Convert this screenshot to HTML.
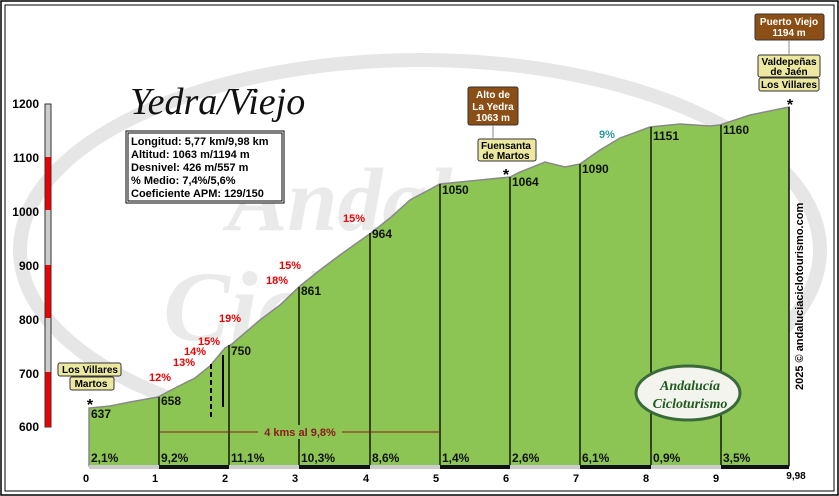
<!DOCTYPE html>
<html><head><meta charset="utf-8"><style>
body{margin:0;background:#fff}
svg{display:block;font-family:"Liberation Sans","DejaVu Sans",sans-serif;font-weight:bold}
</style></head><body>
<svg width="839" height="496" viewBox="0 0 839 496" xmlns="http://www.w3.org/2000/svg">
<rect x="0" y="0" width="839" height="496" fill="#fff"/>
<rect x="1" y="1" width="837" height="494" fill="none" stroke="#000" stroke-width="1.5"/>
<rect x="5" y="5" width="829" height="486" fill="none" stroke="#000" stroke-width="1"/>
<!-- watermark -->
<ellipse cx="420" cy="250" rx="400" ry="190" fill="none" stroke="#e6e6e6" stroke-width="14"/>
<text x="420" y="230" font-size="90" fill="#eaeaea" text-anchor="middle" font-style="italic" font-family="Liberation Serif,serif">Andalucía</text>
<text x="430" y="340" font-size="100" fill="#eaeaea" text-anchor="middle" font-style="italic" font-family="Liberation Serif,serif">Cicloturismo</text>
<!-- profile -->
<polygon fill="#8cc553" stroke="#888" stroke-width="1.5" points="89,466 89,408 110,406 130,402 158,397 175,388 195,378 210,366 225,348 232,344 260,320 280,305 300,286 320,270 340,255 371,233 390,218 410,200 440,184 470,181 500,178 510,177 520,172 545,162 565,167 580,164 600,150 620,138 650,127 680,124 710,126 720,125 750,115 789,107 789,466"/>
<g stroke="#000" stroke-width="1.3">
<line x1="159" y1="397" x2="159" y2="466"/><line x1="229" y1="345" x2="229" y2="466"/>
<line x1="299" y1="287" x2="299" y2="466"/><line x1="370" y1="233" x2="370" y2="466"/>
<line x1="440" y1="184" x2="440" y2="466"/><line x1="510" y1="177" x2="510" y2="466"/>
<line x1="580" y1="164" x2="580" y2="466"/><line x1="651" y1="127" x2="651" y2="466"/>
<line x1="721" y1="125" x2="721" y2="466"/><line x1="789" y1="107" x2="789" y2="466"/>
</g>
<g stroke="#000" stroke-width="2">
<line x1="211" y1="364" x2="211" y2="417" stroke-dasharray="5,3"/>
<line x1="223" y1="355" x2="223" y2="407"/>
</g>
<!-- bottom band -->
<rect x="89" y="465" width="700" height="4" fill="#ccc"/>
<g fill="#111"><rect x="159" y="465" width="70" height="4"/><rect x="299" y="465" width="71" height="4"/><rect x="440" y="465" width="70" height="4"/><rect x="580" y="465" width="71" height="4"/><rect x="721" y="465" width="68" height="4"/></g>
<!-- left scale -->
<rect x="45" y="104" width="6" height="323" fill="#ccc" stroke="#333" stroke-width="1"/>
<g fill="#e00"><rect x="45.5" y="157" width="5" height="53"/><rect x="45.5" y="265" width="5" height="53"/><rect x="45.5" y="372" width="5" height="55"/></g>
<g font-size="12" fill="#000" text-anchor="end">
<text x="39" y="108">1200</text><text x="39" y="162">1100</text><text x="39" y="216">1000</text><text x="39" y="270">900</text><text x="39" y="324">800</text><text x="39" y="378">700</text><text x="39" y="431">600</text>
</g>
<g font-size="11" fill="#000" text-anchor="middle">
<text x="86" y="482">0</text><text x="155" y="482">1</text><text x="225" y="482">2</text><text x="295" y="482">3</text><text x="366" y="482">4</text><text x="436" y="482">5</text><text x="506" y="482">6</text><text x="576" y="482">7</text><text x="646" y="482">8</text><text x="716" y="482">9</text><text x="796" y="479" font-size="10">9,98</text>
</g>
<g font-size="12" fill="#111">
<text x="91" y="462">2,1%</text><text x="161" y="462">9,2%</text><text x="231" y="462">11,1%</text><text x="301" y="462">10,3%</text><text x="372" y="462">8,6%</text><text x="442" y="462">1,4%</text><text x="512" y="462">2,6%</text><text x="582" y="462">6,1%</text><text x="653" y="462">0,9%</text><text x="723" y="462">3,5%</text>
<text x="91" y="418">637</text><text x="161" y="405">658</text><text x="231" y="355">750</text><text x="301" y="295">861</text><text x="372" y="238">964</text><text x="442" y="194">1050</text><text x="512" y="186">1064</text><text x="582" y="173">1090</text><text x="653" y="140">1151</text><text x="723" y="134">1160</text>
</g>
<!-- 4 kms -->
<line x1="160" y1="432" x2="440" y2="432" stroke="#8b1a1a" stroke-width="1"/>
<rect x="258" y="425" width="84" height="14" fill="#8cc553"/>
<text x="300" y="436" font-size="11" fill="#8b1a1a" text-anchor="middle">4 kms al 9,8%</text>
<!-- red gradient labels -->
<g font-size="11" fill="#e00">
<text x="149" y="381">12%</text><text x="173" y="366">13%</text><text x="184" y="355">14%</text><text x="198" y="345">15%</text><text x="219" y="322">19%</text><text x="266" y="284">18%</text><text x="279" y="269">15%</text><text x="343" y="222">15%</text>
</g>
<text x="599" y="138" font-size="11" fill="#2a9a9a">9%</text>
<!-- title -->
<text x="130" y="114" font-size="38" font-weight="normal" font-style="italic" fill="#111" font-family="Liberation Serif,serif">Yedra/Viejo</text>
<rect x="126" y="131" width="158" height="72" fill="#fff" stroke="#000" stroke-width="1"/>
<rect x="128" y="133" width="154" height="68" fill="none" stroke="#000" stroke-width="1"/>
<g font-size="11" fill="#000">
<text x="131" y="145">Longitud: 5,77 km/9,98 km</text><text x="131" y="158">Altitud: 1063 m/1194 m</text><text x="131" y="171">Desnivel: 426 m/557 m</text><text x="131" y="184">% Medio: 7,4%/5,6%</text><text x="131" y="197">Coeficiente APM: 129/150</text>
</g>
<!-- signs -->
<g font-size="10" fill="#000" text-anchor="middle">
<rect x="58" y="363" width="63" height="13" rx="2" fill="#ede8a0" stroke="#333"/><text x="90" y="373">Los Villares</text>
<rect x="70" y="377" width="44" height="13" rx="2" fill="#ede8a0" stroke="#333"/><text x="91" y="387">Martos</text>
<rect x="478" y="139" width="58" height="22" rx="2" fill="#ede8a0" stroke="#333"/><text x="506" y="149">Fuensanta</text><text x="506" y="159">de Martos</text>
<rect x="758" y="55" width="62" height="22" rx="2" fill="#ede8a0" stroke="#333"/><text x="789" y="65">Valdepeñas</text><text x="789" y="75">de Jaén</text>
<rect x="759" y="78" width="60" height="13" rx="2" fill="#ede8a0" stroke="#333"/><text x="789" y="88">Los Villares</text>
</g>
<g font-size="10" fill="#fff" text-anchor="middle">
<rect x="468" y="87" width="50" height="38" rx="2" fill="#8b4e14" stroke="#333"/><text x="493" y="98">Alto de</text><text x="493" y="110">La Yedra</text><text x="493" y="121">1063 m</text>
<rect x="755" y="14" width="69" height="26" rx="2" fill="#8b4e14" stroke="#333"/><text x="789" y="25">Puerto Viejo</text><text x="789" y="36">1194 m</text>
</g>
<g stroke="#888"><line x1="493" y1="125" x2="493" y2="138"/><line x1="789" y1="40" x2="789" y2="54"/></g>
<g font-size="16" fill="#000" text-anchor="middle"><text x="90" y="410">*</text><text x="506" y="180">*</text><text x="790" y="110">*</text></g>
<text transform="translate(803,390) rotate(-90)" font-size="11" fill="#000">2025 © andaluciaciclotourismo.com</text>
<!-- logo -->
<ellipse cx="688" cy="393" rx="52" ry="27" fill="#f4f4ee" stroke="#3a6a3a" stroke-width="3"/>
<text x="690" y="390" font-size="14" fill="#1d5a1d" text-anchor="middle" font-style="italic" font-family="Liberation Serif,serif">Andalucía</text>
<text x="690" y="408" font-size="14" fill="#1d5a1d" text-anchor="middle" font-style="italic" font-family="Liberation Serif,serif">Cicloturismo</text>
</svg>
</body></html>
